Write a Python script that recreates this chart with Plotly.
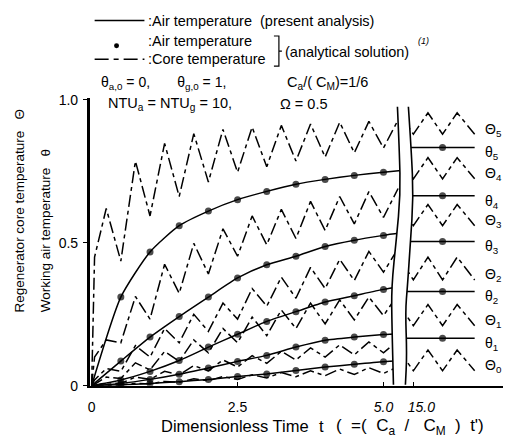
import plotly.graph_objects as go

# ---------------- data ----------------
# transient period, dimensionless time t
t_air = [0, 0.5, 1.0, 1.5, 2.0, 2.5, 3.0, 3.5, 4.0, 4.5, 5.0, 5.3]
air5 = [0, 0.31, 0.468, 0.56, 0.611, 0.651, 0.68, 0.705, 0.722, 0.736, 0.747, 0.753]
air4 = [0, 0.086, 0.17, 0.242, 0.31, 0.377, 0.423, 0.453, 0.487, 0.509, 0.526, 0.535]
air3 = [0, 0.02, 0.05, 0.088, 0.135, 0.18, 0.225, 0.259, 0.293, 0.315, 0.337, 0.347]
air2 = [0, 0.008, 0.022, 0.04, 0.062, 0.085, 0.106, 0.135, 0.159, 0.17, 0.179, 0.183]
air1 = [0, 0.003, 0.008, 0.014, 0.022, 0.032, 0.041, 0.053, 0.065, 0.075, 0.084, 0.087]

t_core = [0, 0.05, 0.25, 0.5, 0.75, 1.0, 1.25, 1.5, 1.75, 2.0, 2.25, 2.5,
          2.75, 3.0, 3.25, 3.5, 3.75, 4.0, 4.25, 4.5, 4.75, 5.0, 5.25]
core5 = [0, 0.45, 0.62, 0.436, 0.786, 0.594, 0.848, 0.662, 0.882, 0.713, 0.897, 0.747,
         0.905, 0.766, 0.911, 0.786, 0.916, 0.80, 0.922, 0.815, 0.925, 0.832, 0.93]
core4 = [0, 0.1, 0.16, 0.15, 0.312, 0.233, 0.425, 0.323, 0.498, 0.391, 0.549, 0.453,
         0.594, 0.493, 0.617, 0.515, 0.645, 0.543, 0.662, 0.566, 0.679, 0.589, 0.69]
core3 = [0, 0.02, 0.06, 0.05, 0.14, 0.1, 0.2, 0.15, 0.25, 0.19, 0.289, 0.233,
         0.34, 0.278, 0.38, 0.306, 0.414, 0.34, 0.442, 0.368, 0.47, 0.397, 0.48]
core2 = [0, 0.005, 0.03, 0.025, 0.08, 0.055, 0.12, 0.085, 0.16, 0.115, 0.2, 0.15,
         0.24, 0.175, 0.265, 0.2, 0.289, 0.216, 0.3, 0.23, 0.31, 0.245, 0.32]
core1 = [0, 0, 0.01, 0.008, 0.03, 0.022, 0.05, 0.038, 0.07, 0.052, 0.09, 0.065,
         0.105, 0.078, 0.12, 0.09, 0.132, 0.1, 0.143, 0.108, 0.153, 0.115, 0.158]
core0 = [0, 0, 0.002, 0.002, 0.008, 0.006, 0.015, 0.012, 0.024, 0.017, 0.032, 0.022,
         0.038, 0.027, 0.046, 0.031, 0.052, 0.035, 0.058, 0.039, 0.063, 0.043, 0.066]

# periodic steady state (t around 15)
t_ss_air = [14.8, 15.5, 16.05]
ss_air = {5: 0.834, 4: 0.665, 3: 0.505, 2: 0.33, 1: 0.166}
t_ss_core = [14.75, 15.0, 15.25, 15.5, 15.75, 16.05]
ss_core_peak = {5: 0.955, 4: 0.798, 3: 0.634, 2: 0.45, 1: 0.284, 0: 0.125}
ss_core_valley = {5: 0.88, 4: 0.724, 3: 0.56, 2: 0.37, 1: 0.21, 0: 0.052}

# ---------------- figure ----------------
W, H = 507, 445
def px(x):
    return x / W
def py(y):
    return 1 - y / H

FONT = "Liberation Sans, Arial, sans-serif"
CORE_DASH = "12px,4px,4px,4px"
fig = go.Figure()

air_left = {5: air5, 4: air4, 3: air3, 2: air2, 1: air1}
core_left = {5: core5, 4: core4, 3: core3, 2: core2, 1: core1, 0: core0}

for k, ys in core_left.items():
    fig.add_trace(go.Scatter(x=t_core, y=ys, mode="lines", xaxis="x", yaxis="y",
                             line=dict(color="black", width=1.5, dash=CORE_DASH),
                             showlegend=False, hoverinfo="skip"))
for k, ys in air_left.items():
    sizes = [0 if (t == 0 or t > 5.01) else 7 for t in t_air]
    fig.add_trace(go.Scatter(x=t_air, y=ys, mode="lines+markers", xaxis="x", yaxis="y",
                             line=dict(color="black", width=1.5, shape="spline", smoothing=0.6),
                             marker=dict(color="black", size=sizes, line=dict(width=0)),
                             showlegend=False, hoverinfo="skip"))

for k in ss_core_peak:
    p, v = ss_core_peak[k], ss_core_valley[k]
    ys = [p, v, p, v, p, v]
    fig.add_trace(go.Scatter(x=t_ss_core, y=ys, mode="lines", xaxis="x2", yaxis="y",
                             line=dict(color="black", width=1.5, dash=CORE_DASH),
                             showlegend=False, hoverinfo="skip"))
for k, v in ss_air.items():
    fig.add_trace(go.Scatter(x=t_ss_air, y=[v] * len(t_ss_air), mode="lines+markers",
                             xaxis="x2", yaxis="y",
                             line=dict(color="black", width=1.5),
                             marker=dict(color="black", size=[0, 7, 0], line=dict(width=0)),
                             showlegend=False, hoverinfo="skip"))

# ---- break (two wavy lines with white gap) ----
left_pts = [(397, 104), (399, 150), (400, 195), (396, 240), (391, 290), (391.5, 330), (393, 391)]
right_pts = [(408, 104), (411, 150), (413, 197), (410, 245), (407, 290), (405, 315), (406.5, 360), (405, 391)]

def smooth_path(pts, start="M"):
    p = [(px(a), py(b)) for a, b in pts]
    s = f"{start} {p[0][0]:.5f},{p[0][1]:.5f} "
    for i in range(1, len(p) - 1):
        mx, my = (p[i][0] + p[i + 1][0]) / 2, (p[i][1] + p[i + 1][1]) / 2
        s += f"Q {p[i][0]:.5f},{p[i][1]:.5f} {mx:.5f},{my:.5f} "
    s += f"L {p[-1][0]:.5f},{p[-1][1]:.5f} "
    return s

gap = smooth_path(left_pts) + smooth_path(list(reversed(right_pts)), start="L") + "Z"
shapes = [
    dict(type="path", xref="paper", yref="paper", path=gap, fillcolor="white",
         line=dict(width=0), layer="above"),
    dict(type="path", xref="paper", yref="paper", path=smooth_path(left_pts),
         line=dict(color="black", width=1.6), layer="above"),
    dict(type="path", xref="paper", yref="paper", path=smooth_path(right_pts),
         line=dict(color="black", width=1.6), layer="above"),
    # legend samples
    dict(type="line", xref="paper", yref="paper", x0=px(93), x1=px(143), y0=py(15), y1=py(15),
         line=dict(color="black", width=1.5)),
    dict(type="line", xref="paper", yref="paper", x0=px(93), x1=px(143), y0=py(55), y1=py(55),
         line=dict(color="black", width=1.5, dash="14px,5px,5px,5px")),
    dict(type="circle", xref="paper", yref="paper", x0=px(112.5), x1=px(117.5), y0=py(38.5), y1=py(43.5),
         fillcolor="black", line=dict(color="black", width=0)),
    # bracket
    dict(type="path", xref="paper", yref="paper",
         path=f"M {px(273)},{py(31)} L {px(278)},{py(31)} L {px(278)},{py(62)} L {px(273)},{py(62)} "
              f"M {px(278)},{py(46.5)} L {px(281)},{py(46.5)}",
         line=dict(color="black", width=1.2)),
]

ann = []
def text(x, y, s, size=13, xa="left", ya="middle", angle=0, italic=False):
    ann.append(dict(x=px(x), y=py(y), xref="paper", yref="paper", text=s, showarrow=False,
                    xanchor=xa, yanchor=ya, textangle=angle,
                    font=dict(family=FONT, size=size, color="black",
                              style="italic" if italic else "normal")))

text(145, 15, ":Air temperature  (present analysis)", size=14.5)
text(145, 36, ":Air temperature", size=14.5)
text(145, 55, ":Core temperature", size=14.5)
text(282, 47, "(analytical solution)", size=14.5)
text(416, 36, "(1)", size=9, italic=True)
text(97, 79, "θ<sub>a,0</sub> = 0,       θ<sub>g,0</sub> = 1,", size=14)
text(284, 79, "C<sub>a</sub>/( C<sub>M</sub>)=1/6", size=14.5)
text(104, 101, "NTU<sub>a</sub> = NTU<sub>g</sub> = 10,", size=14.5)
text(277, 101, "Ω = 0.5", size=14.5)
text(158, 434, "Dimensionless Time", size=16.5)
text(316, 434, "t", size=16.5)
text(333, 435, "(  =(  C<sub>a</sub>  /   C<sub>M</sub>  )  t')", size=17)
text(18, 318, "Regenerator core temperature   Θ", size=13.5, xa="center", ya="bottom", angle=-90)
text(44, 318, "Working air temperature   θ", size=13.5, xa="center", ya="bottom", angle=-90)

# right-hand labels
for k in range(5, -1, -1):
    mid = (ss_core_peak[k] + ss_core_valley[k]) / 2
    ann.append(dict(x=px(483), y=mid, xref="paper", yref="y", yshift=-6, text=f"Θ<sub>{k}</sub>",
                    showarrow=False, xanchor="left", font=dict(family=FONT, size=14, color="black")))
    if k in ss_air:
        ann.append(dict(x=px(483), y=ss_air[k], xref="paper", yref="y", yshift=-6,
                        text=f"θ<sub>{k}</sub>", showarrow=False, xanchor="left",
                        font=dict(family=FONT, size=14, color="black")))

SCALE = 58.6  # px per unit of t
fig.update_layout(
    width=W, height=H, autosize=False,
    margin=dict(l=0, r=0, t=0, b=0),
    paper_bgcolor="white", plot_bgcolor="white",
    showlegend=False,
    shapes=shapes, annotations=ann,
    xaxis=dict(domain=[px(88), px(410)], range=[-2 / SCALE, (410 - 90) / SCALE],
               showline=True, linecolor="black", linewidth=2, showgrid=False, zeroline=False,
               ticks="inside", ticklen=4, tickcolor="black",
               tickvals=[0, 2.5, 5.0], ticktext=["0", "2.5", "<i>5.0</i>"],
               tickfont=dict(family=FONT, size=14, color="black"), ticklabelstandoff=8,
               anchor="y"),
    xaxis2=dict(domain=[px(400), px(503)], range=[15 - 13 / SCALE, 15 + 90 / SCALE],
                showline=True, linecolor="black", linewidth=2, showgrid=False, zeroline=False,
                ticks="inside", ticklen=4, tickcolor="black",
                tickvals=[15.0], ticktext=["<i>15.0</i>"], ticklabelshift=8,
                tickfont=dict(family=FONT, size=14, color="black"), ticklabelstandoff=8,
                anchor="y"),
    yaxis=dict(domain=[py(392), py(95)], range=[0, 297 / 295],
               showline=True, linecolor="black", linewidth=2.5, showgrid=False, zeroline=False,
               ticks="outside", ticklen=4, tickcolor="black",
               tickvals=[0, 0.5, 1.0], ticktext=["0", "0.5", "1.0"],
               tickfont=dict(family=FONT, size=14, color="black"), ticklabelstandoff=2,
               anchor="x"),
)

fig.write_html("out.html", config={"displayModeBar": False},
               post_script="document.body.style.margin='0';")
